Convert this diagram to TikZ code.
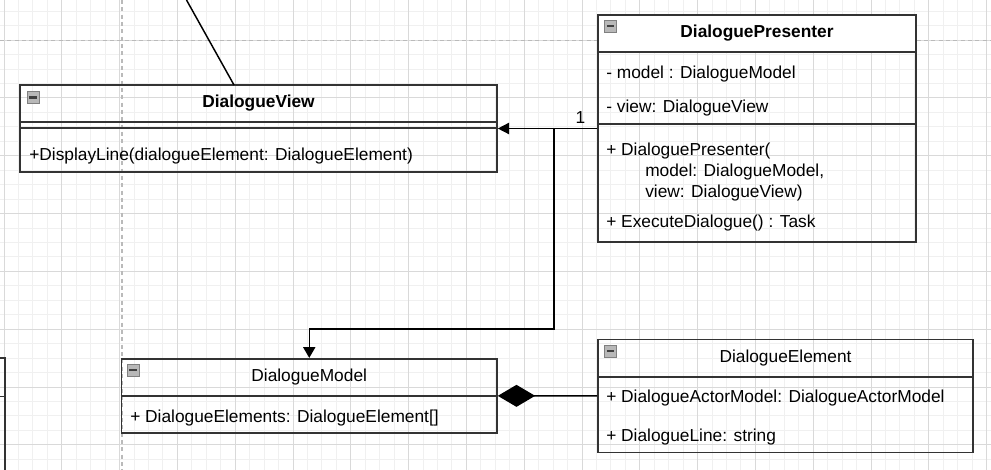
\documentclass[tikz,border=0pt]{standalone}
\usepackage{fontspec}
\setmainfont{Liberation Sans}
\usetikzlibrary{arrows.meta,fit}

\begin{document}
\begin{tikzpicture}[x=0.75pt,y=-0.75pt,
		font=\fontsize{13pt}{15.5pt}\selectfont,
		minorgrid/.style={draw=black!6,line width=0.75pt},
		majorgrid/.style={draw=black!15,line width=0.75pt},
		pagebreak/.style={draw=black!27,line width=0.9pt,dash pattern=on 3pt off 2.5pt},
		classbox/.style={draw=black!80,line width=1.2pt,inner sep=0pt},
		sep/.style={draw=black!80,line width=1.2pt},
		title/.style={inner sep=0pt},
		titlebold/.style={inner sep=0pt,font=\fontsize{13pt}{15.5pt}\selectfont\bfseries},
		member/.style={anchor=base west,inner sep=0pt},
		toggle/.style={draw=black!50,fill=black!28,minimum size=9pt,inner sep=0pt,line width=0.6pt,
			path picture={\draw[black!75,line width=1.6pt]
				([xshift=-2.7pt]path picture bounding box.center) -- ([xshift=2.7pt]path picture bounding box.center);}},
		link/.style={draw=black,line width=1.1pt}]
	\useasboundingbox (0,0) rectangle (991,470);
	\clip (0,0) rectangle (991,470);
	% background grid
	\foreach \k in {0,...,68} \draw[minorgrid] ({4+14.45*\k},0) -- ({4+14.45*\k},470);
	\foreach \k in {0,...,31} \draw[minorgrid] (0,{11.3+14.45*\k}) -- (991,{11.3+14.45*\k});
	\foreach \k in {0,...,17} \draw[majorgrid] ({4+57.8*\k},0) -- ({4+57.8*\k},470);
	\foreach \k in {0,...,7} \draw[majorgrid] (0,{40.2+57.8*\k}) -- (991,{40.2+57.8*\k});
	\draw[pagebreak] (122,0) -- (122,470);
	\draw[pagebreak] (0,40.2) -- (991,40.2);

	% DialogueView
	\node[classbox, fit={(20,85) (497,172)}] (view) {};
	\draw[sep] (view.west |- 0,122) -- (view.east |- 0,122);
	\draw[sep] (view.west |- 0,128) -- (view.east |- 0,128);
	\node[toggle] (viewtoggle) at (33,97.5) {};
	\node[titlebold] (viewname) at (258.5,103.5) {DialogueView};
	\node[member] (viewdisplay) at (29,161) {+DisplayLine(dialogueElement: DialogueElement)};

	% DialoguePresenter
	\fill[white] (598,15) rectangle (916,52.3);
	\node[classbox, fit={(598,15) (916,242)}] (presenter) {};
	\draw[sep] (presenter.west |- 0,52.3) -- (presenter.east |- 0,52.3);
	\draw[sep] (presenter.west |- 0,124.3) -- (presenter.east |- 0,124.3);
	\node[toggle] (presentertoggle) at (610.5,26) {};
	\node[titlebold] (presentername) at (757,33.5) {DialoguePresenter};
	\node[member] (presentermodel) at (606,78.3) {- model : DialogueModel};
	\node[member] (presenterview) at (606,112.7) {- view: DialogueView};
	\node[member] (presenterctor) at (606,155.3) {+ DialoguePresenter(};
	\node[member] (ctormodel) at (645,177) {model: DialogueModel,};
	\node[member] (ctorview) at (645,197.7) {view: DialogueView)};
	\node[member] (presenterexec) at (606,227.7) {+ ExecuteDialogue() : Task};

	% DialogueModel
	\node[classbox, fit={(121.5,358.7) (497,433)}] (model) {};
	\draw[sep] (model.west |- 0,395.7) -- (model.east |- 0,395.7);
	\node[toggle] (modeltoggle) at (133,370) {};
	\node[title] (modelname) at (309.2,377.2) {DialogueModel};
	\node[member] (modelelements) at (130,422.7) {+ DialogueElements: DialogueElement[]};

	% DialogueElement
	\node[classbox, fit={(598,339.3) (973,452.3)}] (element) {};
	\draw[sep] (element.west |- 0,377) -- (element.east |- 0,377);
	\node[toggle] (elementtoggle) at (610.5,351) {};
	\node[title] (elementname) at (785.5,358) {DialogueElement};
	\node[member] (elementactor) at (606,402.7) {+ DialogueActorModel: DialogueActorModel};
	\node[member] (elementline) at (606,441) {+ DialogueLine: string};

	% class cut off at the left edge
	\node[classbox, fit={(-200,358) (5,600)}] (hidden) {};
	\draw[sep] (hidden.west |- 0,396.5) -- (hidden.east |- 0,396.5);

	% connectors
	\coordinate (actor) at (186.5,0);
	\coordinate (viewjoin) at (234,85);
	\draw[link] (actor) -- (viewjoin);
	\draw[link,-{Triangle[length=8.5pt,width=8.5pt]}] (presenter.west |- view.east) -- (view.east);
	\node[title] (viewmult) at (580.5,117.3) {1};
	\coordinate (split) at (554,128.5);
	\draw[link,-{Triangle[length=8pt,width=9pt]}] (split) -- ++(0,200.5) -| (model.north);
	\draw[link,{Diamond[length=28pt,width=16.5pt]}-] (model.east) -- (element.west);
\end{tikzpicture}
\end{document}
